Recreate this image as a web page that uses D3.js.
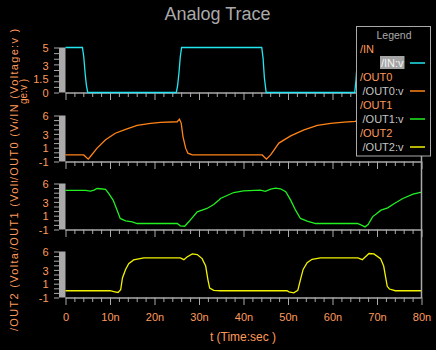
<!DOCTYPE html>
<html>
<head>
<meta charset="utf-8">
<script src="https://cdn.jsdelivr.net/npm/d3@7"></script>
<style>
  html, body { margin: 0; padding: 0; background: #000; }
  svg { display: block; }
  text { font-family: "Liberation Sans", Arial, sans-serif; }
</style>
</head>
<body>
<svg id="chart" width="436" height="350"></svg>
<script>
// ---- data (time in ns, voltage in V) ----
const inT    = [0, 3.8, 4.1, 4.4, 4.7, 5.0, 24.9, 25.2, 25.5, 25.8, 26.1, 44.1, 44.4, 44.7, 45.1, 65.0, 65.3, 65.6, 66.0, 80];
const inV    = [5, 5, 4, 2.2, 0.8, 0, 0, 0.8, 2.2, 4, 5, 5, 3.8, 1.6, 0, 0, 1.5, 3.8, 5, 5];

const out0T  = [0, 4.1, 5.1, 5.6, 7.1, 9.0, 11.2, 13.5, 16.1, 19.1, 21.4, 25.1, 25.6, 26.0, 26.4, 27.0, 27.5, 28.5, 44.2, 45.15, 46.1, 47.95, 50.6, 53.6, 56.6, 59.6, 62.6, 65.2, 65.6, 66.0, 66.4, 67.0, 67.5, 68.5, 80];
const out0V  = [0, 0, -0.64, -0.24, 1.03, 2.3, 3.3, 3.9, 4.5, 4.8, 4.95, 5.05, 5.45, 4.85, 2.8, 1.03, 0.27, 0, 0, -0.64, 0, 1.8, 2.9, 3.8, 4.5, 4.8, 5.0, 5.1, 5.45, 4.85, 2.8, 1.03, 0.27, 0, 0];

const out1T  = [0, 4.5, 5.6, 6.4, 7.1, 7.8, 9.0, 9.7, 10.7, 11.6, 12.3, 13.5, 15.0, 16.1, 25.1, 25.8, 26.8, 27.7, 29.6, 31.8, 33.3, 34.5, 34.8, 37.8, 40.0, 43.8, 44.9, 46.1, 47.2, 48.3, 49.5, 50.6, 51.7, 52.8, 54.3, 56.2, 65.6, 66.5, 67.3, 68.0, 69.0, 70.9, 72.4, 73.9, 75.8, 78.1, 80];
const out1V  = [4.94, 4.94, 4.84, 5.0, 5.24, 5.2, 5.1, 4.5, 3.47, 1.94, 0.68, 0.32, 0.17, -0.09, -0.09, -0.44, -0.5, 0.17, 1.69, 2.2, 2.8, 3.47, 3.72, 4.63, 4.89, 5.0, 4.8, 5.14, 5.3, 5.2, 4.74, 3.47, 1.94, 0.68, 0.27, -0.09, -0.09, -0.34, -0.6, -0.24, 0.93, 1.94, 2.3, 2.96, 3.72, 4.38, 4.69];

const out2T  = [0, 10.0, 11.1, 11.8, 12.4, 12.8, 13.5, 14.2, 15.3, 17.6, 25.8, 26.6, 27.3, 28.5, 29.6, 30.7, 31.5, 32.0, 32.4, 33.3, 34.8, 49.8, 50.2, 51.3, 52.2, 52.8, 53.4, 54.3, 55.4, 57.3, 65.7, 66.7, 68.2, 69.3, 70.8, 71.5, 72.3, 72.8, 74.1, 80];
const out2V  = [0.03, 0.03, -0.13, -0.23, 0.18, 1.98, 3.27, 4.15, 4.71, 5.02, 5.02, 4.76, 5.17, 5.64, 5.54, 4.92, 3.79, 1.73, 0.44, 0.08, 0.03, 0.03, -0.13, -0.28, 0.08, 1.73, 3.27, 4.3, 4.81, 5.02, 5.02, 4.76, 5.69, 5.64, 4.92, 3.79, 0.7, 0.29, 0.03, 0.03];

const seriesNames  = ["/IN", "/OUT0", "/OUT1", "/OUT2"];
const seriesColors = ["#22e6f2", "#ff8418", "#22ee22", "#f2f200"];
const axisTitles   = ["/IN (Voltage:v )", "/OUT0 (Voltage:v )", "/OUT1 (Voltage:v )", "/OUT2 (Voltage:v )"];

const xTickValues  = [0, 10, 20, 30, 40, 50, 60, 70, 80];
const xTickLabels  = ["0", "10n", "20n", "30n", "40n", "50n", "60n", "70n", "80n"];
const yTickValues  = [[0, 1.5, 3, 5], [-1, 1, 3, 6], [-1, 1, 3, 6], [-1, 1, 3, 6]];
const yDomains     = [[0, 5], [-1, 6], [-1, 6], [-1, 6]];
const yCombSteps   = [0.625, 0.7, 0.7, 0.7];

// ---- layout ----
const grey = "#aaaaaa";
const labelColor = "#ff9a5c";
const left = 65.5, right = 421.5;
const panels = [
  { top: 47.5,  bottom: 92.5 },
  { top: 115.5, bottom: 161.5 },
  { top: 183.5, bottom: 229.5 },
  { top: 251.5, bottom: 297.5 }
];

const svg = d3.select("#chart");
svg.append("rect").attr("width", 436).attr("height", 350).attr("fill", "#000");

const x = d3.scaleLinear().domain([0, 80]).range([left, right]);

const series = [
  d3.zip(inT, inV), d3.zip(out0T, out0V), d3.zip(out1T, out1V), d3.zip(out2T, out2V)
];

// title
svg.append("text")
  .attr("x", 217.5).attr("y", 19.5)
  .attr("text-anchor", "middle")
  .attr("font-size", 18)
  .attr("fill", grey)
  .text("Analog Trace");

panels.forEach((p, i) => {
  const y = d3.scaleLinear().domain(yDomains[i]).range([p.bottom, p.top]);
  const g = svg.append("g");

  // x axis: minor ticks every 2n, long ticks every 10n
  const xAxis = d3.axisBottom(x)
    .tickValues(d3.range(0, 80.01, 2))
    .tickSize(4.5)
    .tickFormat("");
  const gx = g.append("g").attr("transform", `translate(0,${p.bottom})`).call(xAxis);
  gx.select(".domain").attr("stroke", grey).attr("stroke-width", 1.5)
    .attr("d", `M${left},0.5H${right}`);
  gx.selectAll(".tick line")
    .attr("stroke", grey)
    .attr("y2", d => (d % 10 === 0 ? 7.5 : 4.5));

  if (i === panels.length - 1) {
    const lab = d3.axisBottom(x).tickValues(xTickValues).tickSize(0)
      .tickFormat((d, k) => xTickLabels[k]);
    const gl = g.append("g").attr("transform", `translate(0,${p.bottom + 13})`).call(lab);
    gl.select(".domain").remove();
    gl.selectAll("text").attr("fill", labelColor).attr("font-size", 11)
      .attr("font-family", "Liberation Sans, Arial, sans-serif");
  }

  // y axis: solid grey bar plus a comb of ticks to its left
  g.append("rect")
    .attr("x", 59).attr("y", p.top).attr("width", left - 59).attr("height", p.bottom - p.top)
    .attr("fill", grey);
  const comb = d3.axisLeft(y)
    .tickValues(d3.range(yDomains[i][0], yDomains[i][1] + 0.001, yCombSteps[i]))
    .tickSize(5).tickFormat("");
  const gy = g.append("g").attr("transform", "translate(59,0)").call(comb);
  gy.select(".domain").remove();
  gy.selectAll(".tick line").attr("stroke", grey);

  const ylab = d3.axisLeft(y).tickValues(yTickValues[i]).tickSize(0).tickPadding(0)
    .tickFormat(d => String(d));
  const gyl = g.append("g").attr("transform", "translate(48.5,0)").call(ylab);
  gyl.select(".domain").remove();
  gyl.selectAll("text").attr("fill", labelColor).attr("font-size", 11)
    .attr("font-family", "Liberation Sans, Arial, sans-serif");

  // trace
  g.append("path")
    .datum(series[i])
    .attr("fill", "none")
    .attr("stroke", seriesColors[i])
    .attr("stroke-width", 1.3)
    .attr("d", d3.line().x(d => x(d[0])).y(d => y(d[1])));
});

// right border line
svg.append("line")
  .attr("x1", right).attr("x2", right)
  .attr("y1", panels[0].top).attr("y2", panels[3].bottom + 0.5)
  .attr("stroke", grey).attr("stroke-width", 1.5);

// vertical axis titles, each kept within its own band
const titleBands = [[24, 122], [122, 181], [181, 251], [251, 332]];
axisTitles.forEach((t, i) => {
  const band = titleBands[i];
  svg.append("clipPath").attr("id", "tclip" + i)
    .append("rect").attr("x", 0).attr("y", band[0]).attr("width", 20).attr("height", band[1] - band[0]);
  svg.append("g").attr("clip-path", `url(#tclip${i})`)
    .append("text")
    .attr("transform", `translate(18,${band[1] - 1}) rotate(-90)`)
    .attr("font-size", 11)
    .attr("letter-spacing", 1.3)
    .attr("fill", labelColor)
    .text(t);
});
// wrapped tail of the /OUT0 title
svg.append("text")
  .attr("transform", "translate(26.5,104) rotate(-90)")
  .attr("font-size", 10)
  .attr("fill", labelColor)
  .text("ge:v )");

// x axis title
svg.append("text")
  .attr("x", 243).attr("y", 341)
  .attr("text-anchor", "middle")
  .attr("font-size", 12)
  .attr("fill", labelColor)
  .text("t (Time:sec )");

// legend
const lg = svg.append("g");
lg.append("rect")
  .attr("x", 356.5).attr("y", 26.5).attr("width", 74).attr("height", 129.5)
  .attr("fill", "#000").attr("stroke", grey).attr("stroke-width", 1);
lg.append("text")
  .attr("x", 394).attr("y", 38.5).attr("text-anchor", "middle")
  .attr("font-size", 10.5).attr("fill", grey).text("Legend");
seriesNames.forEach((n, i) => {
  const base = 52.5 + i * 28;
  lg.append("text").attr("x", 360).attr("y", base)
    .attr("font-size", 11).attr("fill", labelColor).text(n);
  const lbl = n + ":v";
  if (i === 0) {
    lg.append("rect").attr("x", 380).attr("y", base + 3.5).attr("width", 24.5).attr("height", 13)
      .attr("fill", "#a4a4a4");
  }
  lg.append("text").attr("x", 403.5).attr("y", base + 14)
    .attr("text-anchor", "end")
    .attr("font-size", 11).attr("fill", i === 0 ? "#f4f4f4" : "#c4c4c4").text(lbl);
  lg.append("line")
    .attr("x1", 410).attr("x2", 425)
    .attr("y1", base + 10.5).attr("y2", base + 10.5)
    .attr("stroke", seriesColors[i]).attr("stroke-width", 1.5);
});
</script>
</body>
</html>
